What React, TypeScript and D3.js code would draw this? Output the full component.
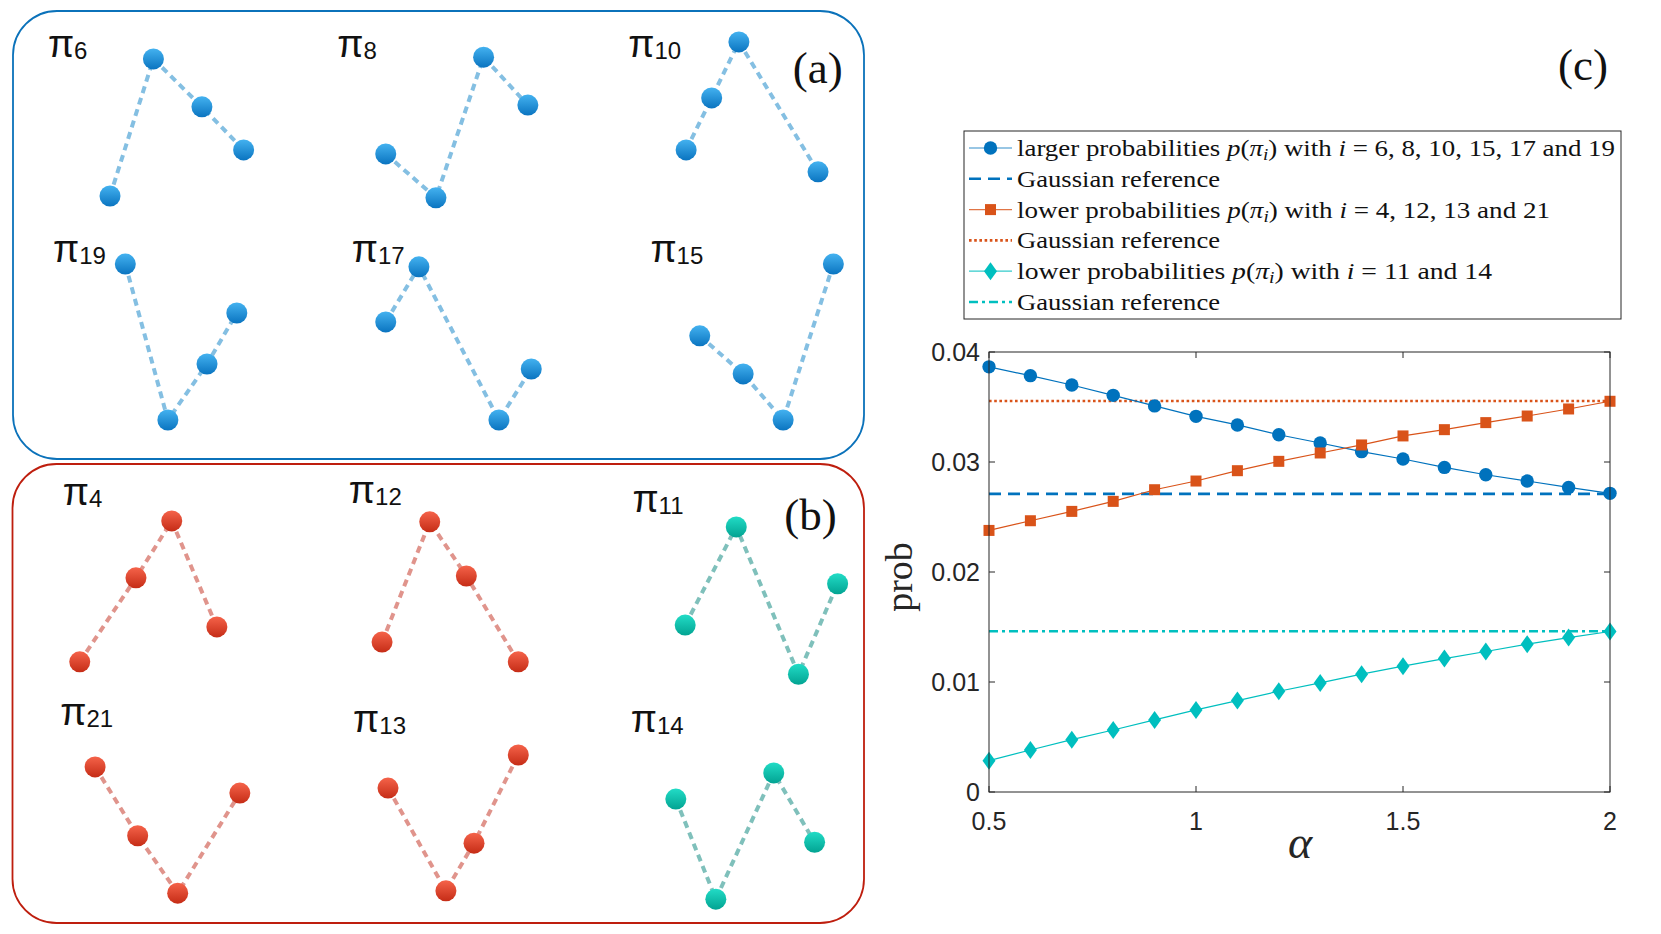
import React from "react";
import * as d3 from "d3";

// ---- panel (c) data ----
const alphaValues = [0.5, 0.6, 0.7, 0.8, 0.9, 1.0, 1.1, 1.2, 1.3, 1.4, 1.5, 1.6, 1.7, 1.8, 1.9, 2.0];
const largerProb = [0.03865, 0.03785, 0.037, 0.03606, 0.0351, 0.03415, 0.03337, 0.03248, 0.03173, 0.03094, 0.03027, 0.02951, 0.02884, 0.02827, 0.02769, 0.02715];
const lowerProbA = [0.02378, 0.02466, 0.02551, 0.02642, 0.02748, 0.02827, 0.02921, 0.03006, 0.03082, 0.03155, 0.03237, 0.03294, 0.03358, 0.03418, 0.03482, 0.03552];
const lowerProbB = [0.00285, 0.00382, 0.00476, 0.00564, 0.00655, 0.00746, 0.00831, 0.00916, 0.00992, 0.01071, 0.01144, 0.01213, 0.01277, 0.01344, 0.01404, 0.01459];
const gaussLarger = 0.0271;
const gaussLowerA = 0.03555;
const gaussLowerB = 0.01462;
const xTicks = [0.5, 1, 1.5, 2];
const xTickLabels = ["0.5", "1", "1.5", "2"];
const yTicks = [0, 0.01, 0.02, 0.03, 0.04];
const yTickLabels = ["0", "0.01", "0.02", "0.03", "0.04"];

// ---- panels (a) and (b): ordinal patterns, positions in % of the panel box ----
// each point: [x%, y%] read from the picture (y measured downwards)
const patternsA = [
  { sub: "6", label: [4.1, 10.3], kind: "blue", pts: [[11.4, 41.3], [16.5, 10.7], [22.2, 21.4], [27.1, 31.0]] },
  { sub: "8", label: [38.1, 10.3], kind: "blue", pts: [[43.8, 31.9], [49.7, 41.7], [55.3, 10.3], [60.5, 21.0]] },
  { sub: "10", label: [72.3, 10.3], kind: "blue", pts: [[79.1, 31.0], [82.1, 19.4], [85.3, 6.9], [94.6, 35.9]] },
  { sub: "19", label: [4.7, 56.0], kind: "blue", pts: [[13.2, 56.5], [18.2, 91.3], [22.8, 78.8], [26.3, 67.4]] },
  { sub: "17", label: [39.8, 56.0], kind: "blue", pts: [[43.8, 69.4], [47.7, 57.1], [57.1, 91.3], [60.9, 79.9]] },
  { sub: "15", label: [74.9, 56.0], kind: "blue", pts: [[80.7, 72.5], [85.8, 81.0], [90.5, 91.3], [96.4, 56.5]] },
];
const patternsB = [
  { sub: "4", label: [5.9, 8.9], kind: "red", pts: [[7.9, 43.1], [14.5, 24.8], [18.7, 12.4], [24.0, 35.5]] },
  { sub: "12", label: [39.5, 8.5], kind: "red", pts: [[43.4, 38.8], [49.0, 12.6], [53.3, 24.4], [59.4, 43.1]] },
  { sub: "11", label: [72.8, 10.5], kind: "teal", pts: [[79.0, 35.1], [85.0, 13.7], [92.3, 45.8], [96.9, 26.1]] },
  { sub: "21", label: [5.6, 56.9], kind: "red", pts: [[9.7, 66.0], [14.7, 81.0], [19.4, 93.5], [26.7, 71.7]] },
  { sub: "13", label: [40.0, 58.4], kind: "red", pts: [[44.1, 70.6], [50.9, 93.0], [54.2, 82.6], [59.4, 63.4]] },
  { sub: "14", label: [72.6, 58.4], kind: "teal", pts: [[77.9, 73.0], [82.6, 94.8], [89.4, 67.3], [94.2, 82.4]] },
];

// legend entries: label text, tail after "i =", measured text width
const legendRows = [
  { kind: "blue-marker", text: "larger probabilities ", tail: "6, 8, 10, 15, 17 and 19", width: 598 },
  { kind: "blue-gauss", text: "Gaussian reference", tail: null, width: 203 },
  { kind: "orange-marker", text: "lower probabilities ", tail: "4, 12, 13 and 21", width: 533 },
  { kind: "orange-gauss", text: "Gaussian reference", tail: null, width: 203 },
  { kind: "teal-marker", text: "lower probabilities ", tail: "11 and 14", width: 475 },
  { kind: "teal-gauss", text: "Gaussian reference", tail: null, width: 203 },
];

const dotStyle: Record<string, { top: string; bottom: string; line: string }> = {
  blue: { top: "#44b2f0", bottom: "#0a74c0", line: "#84bfe2" },
  red: { top: "#f5634a", bottom: "#c52c16", line: "#e0948c" },
  teal: { top: "#22dcc6", bottom: "#02a392", line: "#7fc0bb" },
};

const W = 1661;
const H = 934;
const C_BLUE = "#0072BD";
const C_ORANGE = "#D95319";
const C_TEAL = "#00BFBF";
const AXIS = "#262626";
const SERIF = "Liberation Serif, Times New Roman, serif";
const SANS = "Liberation Sans, Arial, sans-serif";

const boxA = { x: 13, y: 11, w: 851, h: 448, stroke: "#0B72BA" };
const boxB = { x: 12.5, y: 464, w: 851.5, h: 459, stroke: "#BE1E0E" };

const dashStyle: Record<string, string> = {
  blue: "12 7",
  orange: "2.6 2.6",
  teal: "9 4 3 4",
};
const colorOf: Record<string, string> = { blue: C_BLUE, orange: C_ORANGE, teal: C_TEAL };

function Marker({ kind, cx, cy }: { kind: string; cx: number; cy: number }) {
  if (kind === "blue") return <circle cx={cx} cy={cy} r={6.7} fill={C_BLUE} />;
  if (kind === "orange")
    return <rect x={cx - 5.5} y={cy - 5.5} width={11} height={11} fill={C_ORANGE} />;
  return <path d={`M${cx},${cy - 9}L${cx + 6.5},${cy}L${cx},${cy + 9}L${cx - 6.5},${cy}Z`} fill={C_TEAL} />;
}

function PatternPanel({ box, patterns, tag, tagPos }: any) {
  const sx = d3.scaleLinear().domain([0, 100]).range([box.x, box.x + box.w]);
  const sy = d3.scaleLinear().domain([0, 100]).range([box.y, box.y + box.h]);
  const line = d3.line<number[]>().x((d) => sx(d[0])).y((d) => sy(d[1]));
  return (
    <g>
      <rect x={box.x} y={box.y} width={box.w} height={box.h} rx={44} ry={44}
        fill="none" stroke={box.stroke} strokeWidth={1.8} />
      {patterns.map((p: any, i: number) => (
        <g key={i}>
          <path d={line(p.pts) || ""} fill="none" stroke={dotStyle[p.kind].line}
            strokeWidth={4} strokeDasharray="7 5" />
          {p.pts.map((d: number[], j: number) => (
            <circle key={j} cx={sx(d[0])} cy={sy(d[1])} r={10.5} fill={`url(#grad-${p.kind})`} />
          ))}
          <text x={sx(p.label[0])} y={sy(p.label[1])} fontFamily={SANS} fontSize={38} fill="#111">
            π<tspan fontSize={24} dy={2}>{p.sub}</tspan>
          </text>
        </g>
      ))}
      <text x={sx(tagPos[0])} y={sy(tagPos[1])} textAnchor="end"
        fontFamily={SERIF} fontSize={45} fill="#111">{tag}</text>
    </g>
  );
}

function Legend() {
  const x0 = 964, y0 = 131, w = 657, h = 188;
  const rowY = d3.scaleLinear().domain([0, 5]).range([148, 302]);
  const lx0 = 969, lx1 = 1012, tx = 1017;
  const fs = 24;
  const cx = (lx0 + lx1) / 2;
  return (
    <g>
      <rect x={x0} y={y0} width={w} height={h} fill="#fff" stroke={AXIS} strokeWidth={1} />
      {legendRows.map((r, i) => {
        const [color, type] = r.kind.split("-");
        const yy = rowY(i);
        return (
          <g key={i}>
            {type === "marker" ? (
              <>
                <line x1={lx0} x2={lx1} y1={yy} y2={yy} stroke={colorOf[color]} strokeWidth={1.2} opacity={0.8} />
                <Marker kind={color} cx={cx} cy={yy} />
              </>
            ) : (
              <line x1={lx0} x2={lx1} y1={yy} y2={yy} stroke={colorOf[color]} strokeWidth={2.6}
                strokeDasharray={dashStyle[color]} />
            )}
            <text x={tx} y={yy + 8} fontFamily={SERIF} fontSize={fs} fill="#111"
              textLength={r.width} lengthAdjust="spacingAndGlyphs">
              {r.text}
              {r.tail && (
                <>
                  <tspan fontStyle="italic">p</tspan>(<tspan fontStyle="italic">π</tspan>
                  <tspan fontStyle="italic" fontSize={17} dy={4}>i</tspan>
                  <tspan dy={-4}>) with </tspan>
                  <tspan fontStyle="italic">i</tspan> = {r.tail}
                </>
              )}
            </text>
          </g>
        );
      })}
    </g>
  );
}

function ProbChart() {
  const left = 989, right = 1610, top = 352, bottom = 792;
  const x = d3.scaleLinear().domain([0.5, 2]).range([left, right]);
  const y = d3.scaleLinear().domain([0, 0.04]).range([bottom, top]);
  const mk = (vals: number[]) =>
    d3.line<number>().x((_, i) => x(alphaValues[i])).y((d) => y(d))(vals) || "";
  const tickLen = 6;
  const gauss = [
    { v: gaussLarger, c: "blue" },
    { v: gaussLowerA, c: "orange" },
    { v: gaussLowerB, c: "teal" },
  ];
  const series = [
    { vals: largerProb, c: "blue" },
    { vals: lowerProbA, c: "orange" },
    { vals: lowerProbB, c: "teal" },
  ];
  return (
    <g>
      {gauss.map((g, i) => (
        <line key={"g" + i} x1={x(0.5)} x2={x(2)} y1={y(g.v)} y2={y(g.v)} stroke={colorOf[g.c]}
          strokeWidth={2.6} strokeDasharray={dashStyle[g.c]} />
      ))}
      {series.map((s, si) => (
        <g key={"s" + si}>
          <path d={mk(s.vals)} fill="none" stroke={colorOf[s.c]} strokeWidth={1.2} />
          {s.vals.map((v, i) => (
            <Marker key={i} kind={s.c} cx={x(alphaValues[i])} cy={y(v)} />
          ))}
        </g>
      ))}

      {/* axes box */}
      <rect x={left} y={top} width={right - left} height={bottom - top} fill="none" stroke={AXIS} strokeWidth={1} />
      {xTicks.map((t, i) => (
        <g key={"xt" + i}>
          <line x1={x(t)} x2={x(t)} y1={bottom} y2={bottom - tickLen} stroke={AXIS} />
          <line x1={x(t)} x2={x(t)} y1={top} y2={top + tickLen} stroke={AXIS} />
          <text x={x(t)} y={bottom + 38} textAnchor="middle" fontFamily={SANS} fontSize={25} fill={AXIS}>{xTickLabels[i]}</text>
        </g>
      ))}
      {yTicks.map((t, i) => (
        <g key={"yt" + i}>
          <line x1={left} x2={left + tickLen} y1={y(t)} y2={y(t)} stroke={AXIS} />
          <line x1={right} x2={right - tickLen} y1={y(t)} y2={y(t)} stroke={AXIS} />
          <text x={left - 9} y={y(t) + 9} textAnchor="end" fontFamily={SANS} fontSize={25} fill={AXIS}>{yTickLabels[i]}</text>
        </g>
      ))}
      <text transform={`translate(912,577) rotate(-90)`} textAnchor="middle"
        fontFamily={SERIF} fontSize={38} fill={AXIS}>prob</text>
      <text x={1300} y={858} textAnchor="middle" fontStyle="italic"
        fontFamily={SERIF} fontSize={46} fill={AXIS}>α</text>
    </g>
  );
}

export default function App() {
  return (
    <svg width={W} height={H} viewBox={`0 0 ${W} ${H}`}
      style={{ position: "absolute", left: 0, top: 0, background: "#fff" }}>
      <defs>
        {Object.entries(dotStyle).map(([k, s]) => (
          <linearGradient key={k} id={`grad-${k}`} x1="0" y1="0" x2="0" y2="1">
            <stop offset="0" stopColor={s.top} />
            <stop offset="1" stopColor={s.bottom} />
          </linearGradient>
        ))}
      </defs>
      <rect x={0} y={0} width={W} height={H} fill="#fff" />
      <PatternPanel box={boxA} patterns={patternsA} tag="(a)" tagPos={[97.5, 16.1]} />
      <PatternPanel box={boxB} patterns={patternsB} tag="(b)" tagPos={[96.8, 14.4]} />
      <text x={1608} y={80} textAnchor="end" fontFamily={SERIF} fontSize={45} fill="#111">(c)</text>
      <Legend />
      <ProbChart />
    </svg>
  );
}
